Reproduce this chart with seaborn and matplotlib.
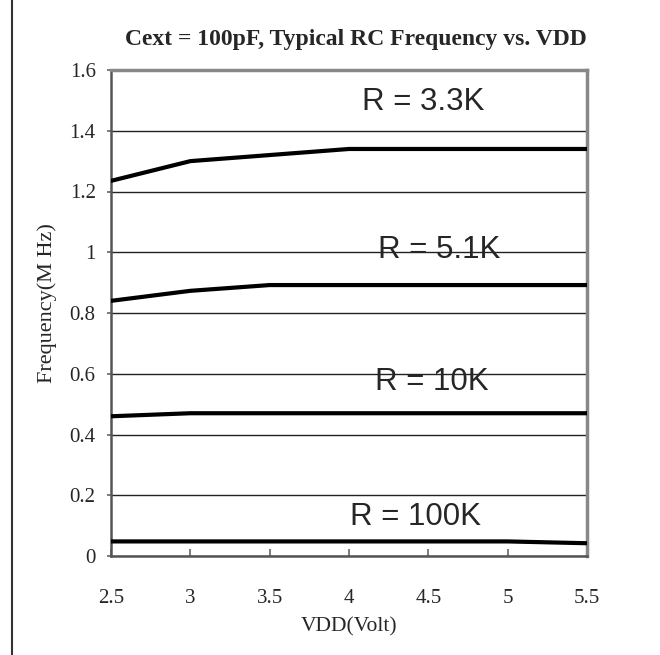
import numpy as np
import pandas as pd
import matplotlib
matplotlib.use("Agg")
import matplotlib.pyplot as plt
import seaborn as sns
from matplotlib.patches import Rectangle

# data
vdd = [2.5, 3.0, 3.5, 4.0, 4.5, 5.0, 5.5]
f_3k3 = [1.235, 1.30, 1.32, 1.34, 1.34, 1.34, 1.34]
f_5k1 = [0.84, 0.873, 0.892, 0.892, 0.892, 0.892, 0.892]
f_10k = [0.46, 0.47, 0.47, 0.47, 0.47, 0.47, 0.47]
f_100k = [0.048, 0.048, 0.048, 0.048, 0.048, 0.048, 0.042]
series_names = ["R = 3.3K", "R = 5.1K", "R = 10K", "R = 100K"]
label_x = [4.47, 4.57, 4.52, 4.42]
label_y = [1.495, 1.007, 0.573, 0.128]
x_ticks = [2.5, 3, 3.5, 4, 4.5, 5, 5.5]
x_ticklabels = ["2.5", "3", "3.5", "4", "4.5", "5", "5.5"]
y_ticks = [0, 0.2, 0.4, 0.6, 0.8, 1.0, 1.2, 1.4, 1.6]
y_ticklabels = ["0", "0.2", "0.4", "0.6", "0.8", "1", "1.2", "1.4", "1.6"]

df = pd.DataFrame({
    "vdd": vdd * 4,
    "freq": f_3k3 + f_5k1 + f_10k + f_100k,
    "R": sum([[n] * len(vdd) for n in series_names], []),
})

sns.set_style("white")
plt.rcParams["font.family"] = ["Liberation Serif", "DejaVu Serif"]

fig = plt.figure(figsize=(6.6, 6.55), dpi=100)
ax = fig.add_axes([111 / 660, 1 - 556 / 655, 476 / 660, 486 / 655])

sns.lineplot(data=df, x="vdd", y="freq", hue="R", palette=["black"] * 4,
             linewidth=3, legend=False, ax=ax, zorder=3)

ax.set_xlim(2.5, 5.5)
ax.set_ylim(0, 1.6)
ax.set_xticks(x_ticks)
ax.set_xticklabels(x_ticklabels)
ax.set_yticks(y_ticks)
ax.set_yticklabels(y_ticklabels)
ax.grid(axis="y", color="#222222", linewidth=1.0)
ax.grid(axis="x", visible=False)

ax.tick_params(axis="x", direction="in", length=5, width=1.2, color="#666666",
               labelsize=15, pad=24, bottom=True)
ax.tick_params(axis="y", direction="out", length=3, width=1.2, color="#666666",
               labelsize=15, pad=8, left=True)

for side in ["left", "bottom"]:
    ax.spines[side].set_color("#555555")
    ax.spines[side].set_linewidth(1.8)
for side in ["top", "right"]:
    ax.spines[side].set_color("#888888")
    ax.spines[side].set_linewidth(2.5)

ax.set_xlabel("VDD(Volt)", fontsize=15.5)
ax.set_ylabel("Frequency(M Hz)", fontsize=16)
ax.xaxis.set_label_coords(0.5, -0.127)
ax.yaxis.set_label_coords(-0.114, 0.52)

for name, lx, ly in zip(series_names, label_x, label_y):
    ax.text(lx, ly, name, fontsize=22.5, family=["Liberation Sans", "DejaVu Sans"],
            ha="center", va="center", zorder=4)

fig.text(356 / 660, 1 - 40 / 655, "Cext = 100pF, Typical RC Frequency vs. VDD",
         fontsize=17, fontweight="bold", ha="center", va="center")

fig.add_artist(Rectangle((12 / 660, -0.2), 1.5, 1.2 + (1 - 7 / 655),
                         transform=fig.transFigure, fill=False,
                         edgecolor="#333333", linewidth=1.5, clip_on=False))

fig.savefig("out.png", dpi=100)
